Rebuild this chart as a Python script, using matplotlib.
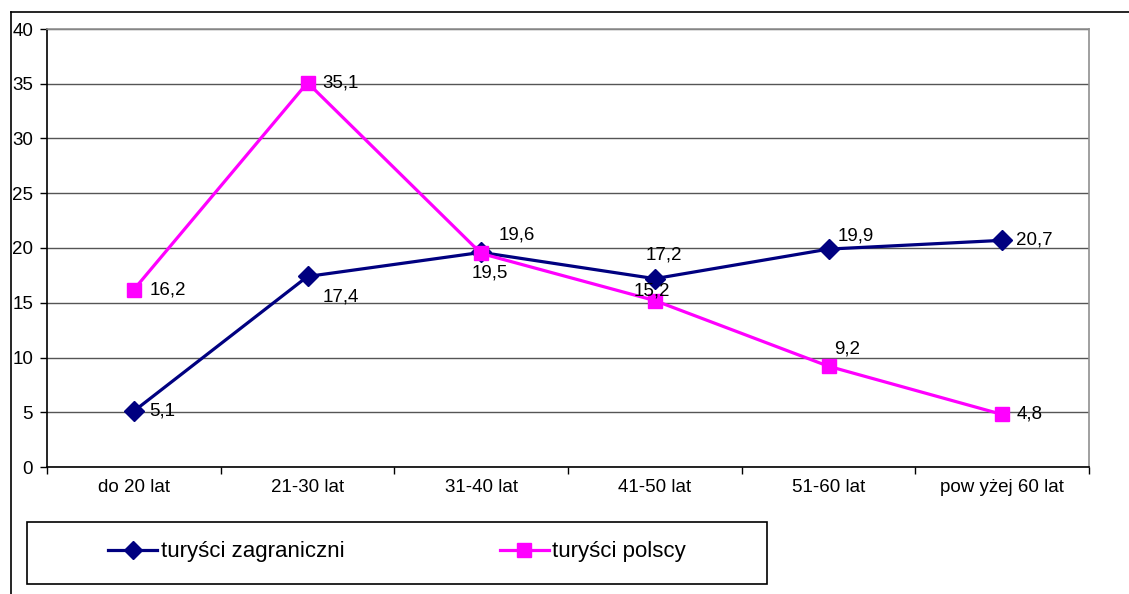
import matplotlib
matplotlib.use("Agg")
import matplotlib.pyplot as plt
from matplotlib.lines import Line2D
from matplotlib.patches import Rectangle

plt.rcParams['font.family'] = ['Liberation Sans', 'DejaVu Sans']

categories = ["do 20 lat", "21-30 lat", "31-40 lat", "41-50 lat", "51-60 lat", "pow yżej 60 lat"]
zagraniczni = [5.1, 17.4, 19.6, 17.2, 19.9, 20.7]
polscy = [16.2, 35.1, 19.5, 15.2, 9.2, 4.8]
series_names = ["turyści zagraniczni", "turyści polscy"]
y_ticks = [0, 5, 10, 15, 20, 25, 30, 35, 40]

W, H = 1129, 594
fig = plt.figure(figsize=(W / 100, H / 100), dpi=100)

def fx(px):
    return px / W

def fy(py):
    return 1 - py / H

ax = fig.add_axes([fx(47), fy(467), fx(1089) - fx(47), fy(29) - fy(467)])

x = list(range(len(categories)))
navy = "#000080"
magenta = "#FF00FF"

ax.plot(x, zagraniczni, color=navy, lw=2.3, marker="D", ms=10, zorder=4,
        label=series_names[0])
ax.plot(x, polscy, color=magenta, lw=2.3, marker="s", ms=10.5, zorder=5,
        label=series_names[1])

TICK_FS = 13.5
ax.set_xlim(-0.5, len(categories) - 0.5)
ax.set_ylim(0, 40)
ax.set_yticks(y_ticks)
ax.set_yticklabels([str(v) for v in y_ticks], fontsize=TICK_FS)
ax.set_xticks([i + 0.5 for i in range(-1, len(categories))], minor=False)
ax.set_xticklabels([])
ax.set_xticks(x, minor=True)
ax.set_xticklabels(categories, minor=True, fontsize=TICK_FS)
ax.tick_params(axis="x", which="minor", length=0, pad=9)
ax.tick_params(axis="x", which="major", length=5, direction="out", width=1)
ax.tick_params(axis="y", length=5, direction="out", width=1, pad=5)

ax.yaxis.grid(True, color="#555555", lw=1)
ax.set_axisbelow(True)
for s in ["top", "right"]:
    ax.spines[s].set_color("#909090")
    ax.spines[s].set_linewidth(1.2)
for s in ["left", "bottom"]:
    ax.spines[s].set_color("black")
    ax.spines[s].set_linewidth(1.2)

# value labels: (dx, dy) offsets in pixels and alignment
zag_offsets = [((15, 0), "left", "center"),
               ((15, -21), "left", "center"),
               ((17, 17), "left", "center"),
               ((9, 24), "center", "center"),
               ((9, 13), "left", "center"),
               ((14, 0), "left", "center")]
pol_offsets = [((16, 0), "left", "center"),
               ((15, 0), "left", "center"),
               ((9, -20), "center", "center"),
               ((-3, 10), "center", "center"),
               ((6, 17), "left", "center"),
               ((14, 0), "left", "center")]

def fmt(v):
    return f"{v:.1f}".replace(".", ",")

for vals, offs in [(zagraniczni, zag_offsets), (polscy, pol_offsets)]:
    for i, v in enumerate(vals):
        (dx, dy), ha, va = offs[i]
        ax.annotate(fmt(v), (i, v), xytext=(dx, dy), textcoords="offset pixels",
                    ha=ha, va=va, fontsize=TICK_FS, color="black", zorder=6)

# outer chart frame
fig.add_artist(Line2D([fx(11), 1], [fy(12), fy(12)], color="black", lw=1.2))
fig.add_artist(Line2D([fx(11), fx(11)], [fy(12), 0], color="black", lw=1.2))

# legend box
fig.add_artist(Rectangle((fx(27), fy(584)), fx(767) - fx(27), fy(522) - fy(584),
                         fill=False, edgecolor="black", lw=1.2))
handles, labels = ax.get_legend_handles_labels()
fig.legend(handles, labels, loc="center", bbox_to_anchor=(fx(397), fy(552)),
           ncol=2, frameon=False, fontsize=16, handlelength=2.2,
           handletextpad=0.15, columnspacing=7.0, markerscale=0.95)

fig.savefig("out.png", dpi=100)
